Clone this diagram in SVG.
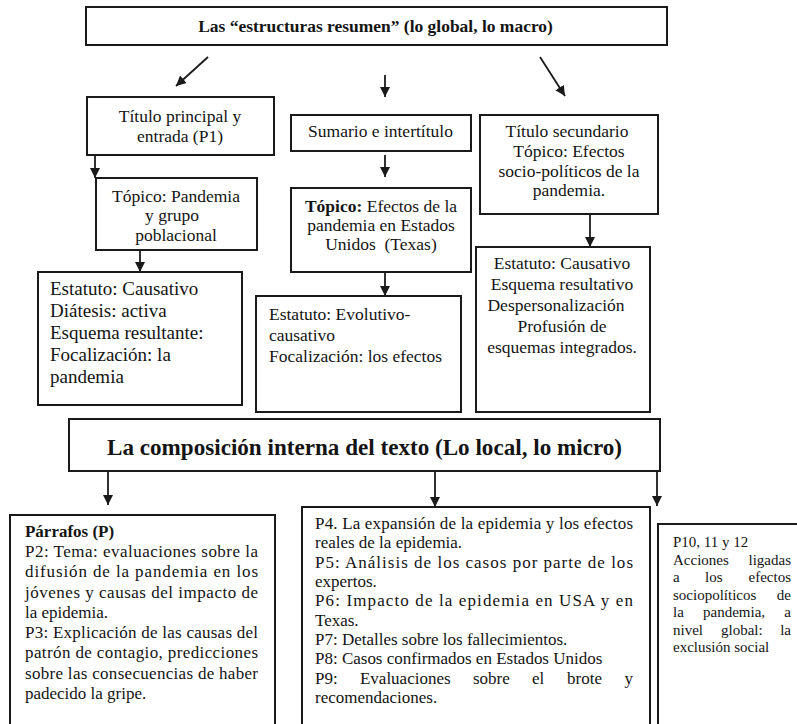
<svg xmlns="http://www.w3.org/2000/svg" width="797" height="724" viewBox="0 0 797 724">
<style>
.box{fill:#fff;stroke:#1a1a1a;stroke-width:2}
.t{font-family:"Liberation Serif","Times New Roman",serif;font-size:15px;fill:#141414}
.c{text-anchor:middle}
.e{text-anchor:end}
.b{font-weight:bold}
.con{stroke:#1a1a1a;stroke-width:1.8;fill:none;marker-end:url(#ah)}
</style>
<defs>
<marker id="ah" markerUnits="userSpaceOnUse" markerWidth="12" markerHeight="12" refX="10" refY="5" orient="auto">
<path d="M0,0 L10,5 L0,10 Z" fill="#1a1a1a"/>
</marker>
</defs>
<rect width="797" height="724" fill="#fff"/>

<g id="connectors">
<line class="con" x1="208" y1="57" x2="176" y2="86"/>
<line class="con" x1="385" y1="75" x2="385" y2="97"/>
<line class="con" x1="540" y1="57" x2="565" y2="96"/>
<line class="con" x1="95" y1="155" x2="95" y2="178"/>
<line class="con" x1="140" y1="250" x2="140" y2="272"/>
<line class="con" x1="385" y1="155" x2="385" y2="177"/>
<line class="con" x1="385" y1="272" x2="385" y2="296"/>
<line class="con" x1="590" y1="214" x2="590" y2="247"/>
<line class="con" x1="108" y1="471" x2="108" y2="505"/>
<line class="con" x1="435" y1="471" x2="435" y2="507"/>
<line class="con" x1="657" y1="471" x2="657" y2="506"/>
</g>

<g id="top">
<rect class="box" x="86" y="7" width="581" height="38"/>
<text class="t c b" transform="translate(375.5,32) scale(1.1333)" textLength="313" lengthAdjust="spacingAndGlyphs">Las “estructuras resumen” (lo global, lo macro)</text>
</g>

<g id="titulo-principal">
<rect class="box" x="87" y="97" width="187" height="58"/>
<text class="t c" transform="translate(180,122) scale(1.1667)">Título principal y</text>
<text class="t c" transform="translate(180,142) scale(1.1667)">entrada (P1)</text>
</g>

<g id="topico-pandemia">
<rect class="box" x="96" y="178" width="161" height="72"/>
<text class="t c" transform="translate(176,202) scale(1.1667)">Tópico: Pandemia</text>
<text class="t c" transform="translate(172,221) scale(1.1667)">y grupo</text>
<text class="t c" transform="translate(176,241) scale(1.1667)">poblacional</text>
</g>

<g id="estatuto-causativo-1">
<rect class="box" x="38" y="272" width="204" height="133"/>
<text class="t" transform="translate(50,295) scale(1.2667)">Estatuto: Causativo</text>
<text class="t" transform="translate(50,317) scale(1.2667)">Diátesis: activa</text>
<text class="t" transform="translate(50,339) scale(1.2667)">Esquema resultante:</text>
<text class="t" transform="translate(50,361) scale(1.2667)">Focalización: la</text>
<text class="t" transform="translate(50,383) scale(1.2667)">pandemia</text>
</g>

<g id="sumario">
<rect class="box" x="291" y="115" width="180" height="36"/>
<text class="t c" transform="translate(380.5,137) scale(1.1667)">Sumario e intertítulo</text>
</g>

<g id="topico-efectos">
<rect class="box" x="291" y="188" width="180" height="84"/>
<text class="t c" transform="translate(381,212) scale(1.1667)"><tspan class="b">Tópico:</tspan> Efectos de la</text>
<text class="t c" transform="translate(381,231) scale(1.1667)">pandemia en Estados</text>
<text class="t c" transform="translate(381,250) scale(1.1667)" xml:space="preserve">Unidos  (Texas)</text>
</g>

<g id="estatuto-evolutivo">
<rect class="box" x="256" y="296" width="205" height="116"/>
<text class="t" transform="translate(269,320) scale(1.1667)">Estatuto: Evolutivo-</text>
<text class="t" transform="translate(269,341) scale(1.1667)">causativo</text>
<text class="t" transform="translate(269,362) scale(1.1667)">Focalización: los efectos</text>
</g>

<g id="titulo-secundario">
<rect class="box" x="480" y="115" width="178" height="99"/>
<text class="t c" transform="translate(567,137) scale(1.1667)">Título secundario</text>
<text class="t c" transform="translate(569,157) scale(1.1667)">Tópico: Efectos</text>
<text class="t c" transform="translate(569,177) scale(1.1667)">socio-políticos de la</text>
<text class="t c" transform="translate(569,196) scale(1.1667)">pandemia.</text>
</g>

<g id="estatuto-causativo-2">
<rect class="box" x="476" y="247" width="174" height="165"/>
<text class="t c" transform="translate(562,269) scale(1.1667)">Estatuto: Causativo</text>
<text class="t c" transform="translate(562,290) scale(1.1667)">Esquema resultativo</text>
<text class="t c" transform="translate(556,311) scale(1.1667)">Despersonalización</text>
<text class="t c" transform="translate(562,332) scale(1.1667)">Profusión de</text>
<text class="t c" transform="translate(562,353) scale(1.1667)">esquemas integrados.</text>
</g>

<g id="composicion">
<rect class="box" x="69" y="419" width="591" height="52"/>
<text class="t c b" x="364.5" y="455" style="font-size:23px" textLength="515" lengthAdjust="spacingAndGlyphs">La composición interna del texto (Lo local, lo micro)</text>
</g>

<g id="parrafos">
<rect class="box" x="10" y="515" width="265" height="230"/>
<text class="t b" transform="translate(25,537) scale(1.1333)">Párrafos (P)</text>
<text class="t" transform="translate(25,557) scale(1.1333)" textLength="205.6" lengthAdjust="spacing">P2: Tema: evaluaciones sobre la</text>
<text class="t" transform="translate(25,577) scale(1.1333)" textLength="205.6" lengthAdjust="spacing">difusión de la pandemia en los</text>
<text class="t" transform="translate(25,597.5) scale(1.1333)" textLength="205.6" lengthAdjust="spacing">jóvenes y causas del impacto de</text>
<text class="t" transform="translate(25,618) scale(1.1333)">la epidemia.</text>
<text class="t" transform="translate(25,638) scale(1.1333)" textLength="205.6" lengthAdjust="spacing">P3: Explicación de las causas del</text>
<text class="t" transform="translate(25,658) scale(1.1333)" textLength="205.6" lengthAdjust="spacing">patrón de contagio, predicciones</text>
<text class="t" transform="translate(25,678.5) scale(1.1333)" textLength="205.6" lengthAdjust="spacing">sobre las consecuencias de haber</text>
<text class="t" transform="translate(25,698.5) scale(1.1333)">padecido la gripe.</text>
</g>

<g id="p4-p9">
<rect class="box" x="302" y="507" width="348" height="240"/>
<text class="t" transform="translate(315,529) scale(1.1333)" textLength="280.6" lengthAdjust="spacing">P4. La expansión de la epidemia y los efectos</text>
<text class="t" transform="translate(315,548) scale(1.1333)">reales de la epidemia.</text>
<text class="t" transform="translate(315,567.5) scale(1.1333)" textLength="280.6" lengthAdjust="spacing">P5: Análisis de los casos por parte de los</text>
<text class="t" transform="translate(315,587) scale(1.1333)">expertos.</text>
<text class="t" transform="translate(315,606) scale(1.1333)" textLength="280.6" lengthAdjust="spacing">P6: Impacto de la epidemia en USA y en</text>
<text class="t" transform="translate(315,625.5) scale(1.1333)">Texas.</text>
<text class="t" transform="translate(315,645) scale(1.1333)">P7: Detalles sobre los fallecimientos.</text>
<text class="t" transform="translate(315,664) scale(1.1333)">P8: Casos confirmados en Estados Unidos</text>
<text class="t" transform="translate(315,683.5) scale(1.1333)"><tspan x="0">P9:</tspan><tspan x="39.7">Evaluaciones</tspan><tspan x="139.4">sobre</tspan><tspan x="191.5">el</tspan><tspan x="222.4">brote</tspan></text>
<text class="t e" transform="translate(633,683.5) scale(1.1333)">y</text>
<text class="t" transform="translate(315,703) scale(1.1333)">recomendaciones.</text>
</g>

<g id="p10-p12">
<rect class="box" x="658" y="524" width="140" height="230"/>
<text class="t" x="673" y="547">P10, 11 y 12</text>
<text class="t" x="673" y="564.5">Acciones</text>
<text class="t e" x="791" y="564.5">ligadas</text>
<text class="t" y="582"><tspan x="673">a</tspan><tspan x="705">los</tspan></text>
<text class="t e" x="791" y="582">efectos</text>
<text class="t" x="673" y="599.5">sociopolíticos</text>
<text class="t e" x="791" y="599.5">de</text>
<text class="t" y="617"><tspan x="673">la</tspan><tspan x="703">pandemia,</tspan></text>
<text class="t e" x="791" y="617">a</text>
<text class="t" y="634.5"><tspan x="673">nivel</tspan><tspan x="721">global:</tspan></text>
<text class="t e" x="791" y="634.5">la</text>
<text class="t" x="673" y="652">exclusión social</text>
</g>
</svg>
